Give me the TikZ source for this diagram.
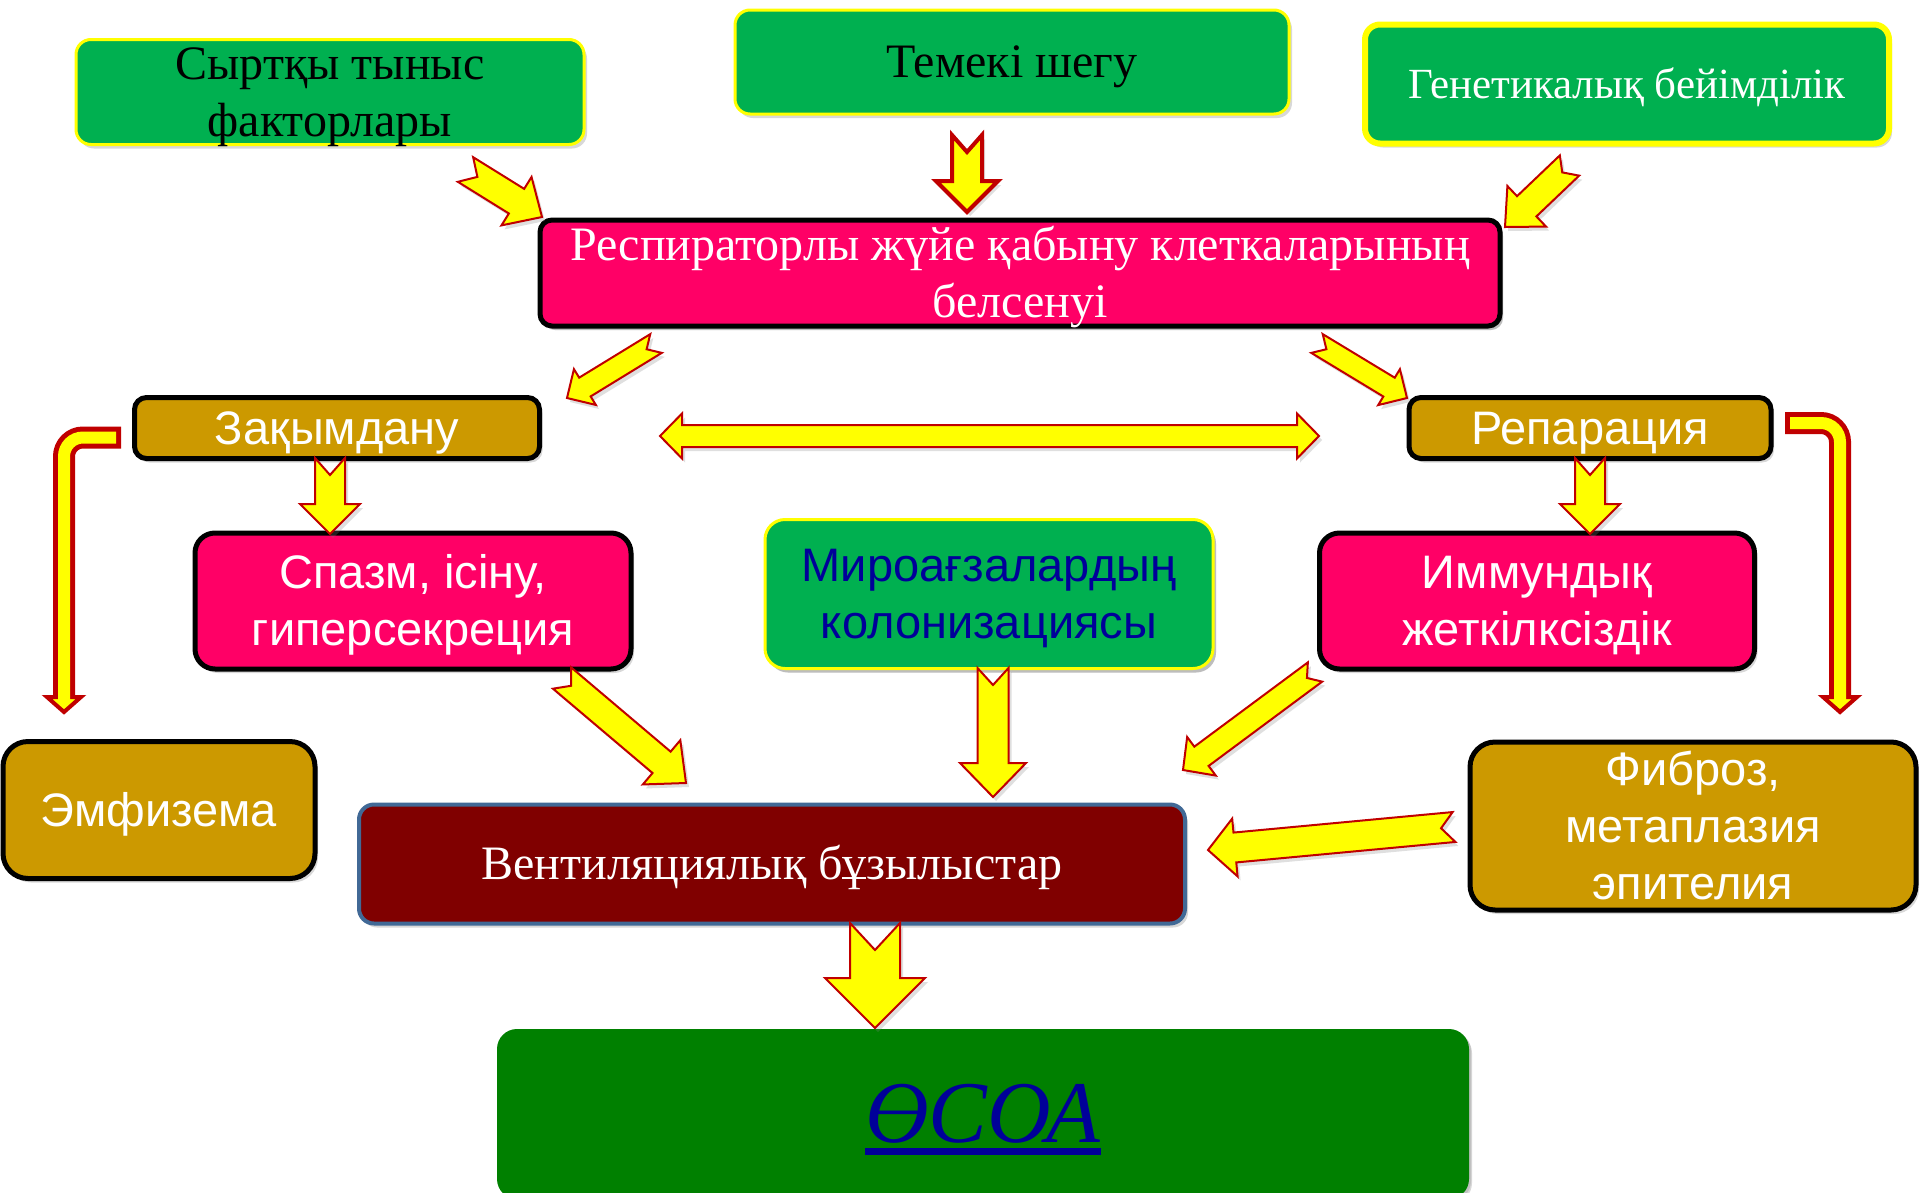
\documentclass[tikz,border=0pt]{standalone}
\usepackage{fontspec}
\setmainfont{Liberation Serif}
\setsansfont{Liberation Sans}
\usetikzlibrary{calc,shadows}

\definecolor{kgreen}{RGB}{0,176,80}
\definecolor{dgreen}{RGB}{0,128,0}
\definecolor{kpink}{RGB}{255,0,102}
\definecolor{kgold}{RGB}{204,153,0}
\definecolor{kmaroon}{RGB}{128,0,0}
\definecolor{kyellow}{RGB}{255,255,0}
\definecolor{kred}{RGB}{192,0,0}
\definecolor{kblue}{RGB}{0,0,153}
\definecolor{kslate}{RGB}{65,105,150}

\tikzset{
	wh/.style 2 args={minimum width=#1pt, minimum height=#2pt},
	lines/.style 2 args={text height=#1pt, text depth=#2pt},
	box/.style={inner sep=0pt, align=flush center, rounded corners=#1,
		drop shadow={opacity=0.3, shadow xshift=3pt, shadow yshift=-4pt}},
	box/.default=15pt,
	greenbox/.style={box, fill=kgreen, draw=kyellow, line width=3pt},
	pinkbox/.style={box=20pt, fill=kpink, draw=black, line width=5pt, text=white},
	goldbox/.style={box=#1, fill=kgold, draw=black, line width=5pt, text=white},
	goldbox/.default=12pt,
	arrowbox/.style={fill=kyellow, draw=kred, line width=2pt, line join=miter,
		drop shadow={opacity=0.25, shadow xshift=3pt, shadow yshift=-4pt}},
	seriftext/.style={font=\fontsize{#1}{57}\selectfont},
	sanstext/.style={font=\fontsize{#1}{57}\sffamily\selectfont},
}

% #2 tail, #3 tip, #4 half shaft, #5 half head, #6 head length, #7 notch
\newcommand{\blockarrow}[7][]{%
	\coordinate (ba-c) at ($(#3)!#6!(#2)$);
	\draw[arrowbox,#1] ($(#2)!#7!(#3)$) -- ($(#2)!#4!90:(#3)$)
		-- ($(ba-c)!#4!-90:(#2)$) -- ($(ba-c)!#5!-90:(#2)$) -- (#3)
		-- ($(ba-c)!#5!90:(#2)$) -- ($(ba-c)!#4!90:(#2)$)
		-- ($(#2)!#4!-90:(#3)$) -- cycle;
}
\newcommand{\thickul}[1]{\setbox0\hbox{#1}\rlap{\rule[-12pt]{\wd0}{7pt}}\box0}

\begin{document}
\begin{tikzpicture}[x=1pt,y=-1pt]
	\useasboundingbox (0,0) rectangle (1920,1192);
	\clip (0,0) rectangle (1920,1192);
	\fill[white] (0,0) rectangle (1920,1192);

	\node[greenbox, wh={508}{105}, text width=480pt, lines={31.4}{57}, seriftext=48] (sirtky) at (330,92) {Сыртқы тыныс\\факторлары};
	\node[greenbox, wh={554}{104}, lines={31.4}{0}, seriftext=48] (temeki) at (1012,62) {Темекі шегу};
	\node[greenbox, line width=6pt, wh={524}{119}, lines={28.2}{0}, seriftext=43, text=white] (genetic) at (1627,84) {Генетикалық бейімділік};
	\node[pinkbox, box=12pt, wh={960}{106}, text width=940pt, lines={31.4}{57}, seriftext=48] (resp) at (1020,273) {Респираторлы жүйе қабыну клеткаларының\\белсенуі};

	\node[goldbox, wh={405}{61}, lines={32.3}{0}, sanstext=47] (zaqym) at (337,428) {Зақымдану};
	\node[goldbox, wh={362}{61}, lines={32.3}{0}, sanstext=47] (repar) at (1590,428) {Репарация};

	\node[pinkbox, wh={436}{136}, text width=420pt, lines={32.3}{57}, sanstext=47] (spazm) at (413,601) {Спазм, ісіну,\\гиперсекреция};
	\node[greenbox, box=20pt, wh={448}{149}, text width=430pt, lines={32.3}{57}, sanstext=47, text=kblue] (micro) at (989,594) {Мироағзалардың\\колонизациясы};
	\node[pinkbox, wh={435}{136}, text width=420pt, lines={32.3}{57}, sanstext=47] (immun) at (1537,601) {Иммундық\\жеткілксіздік};

	\node[goldbox=25pt, wh={312}{137}, lines={32.3}{0}, sanstext=47] (emfiz) at (159,810) {Эмфизема};
	\node[goldbox=25pt, wh={446}{168}, text width=430pt, lines={32.3}{114}, sanstext=47] (fibroz) at (1693,826) {Фиброз,\\метаплазия\\эпителия};
	\node[box, fill=kmaroon, draw=kslate, line width=4pt, wh={826}{119}, lines={31.4}{0}, seriftext=48, text=white] (vent) at (772,864) {Вентиляциялық бұзылыстар};

	\node[box=20pt, fill=dgreen, wh={972}{170}, lines={57.6}{0}, text=kblue, font=\fontsize{88}{90}\itshape\selectfont,
		drop shadow={opacity=0.25, shadow xshift=2pt, shadow yshift=-2pt}] (osoa) at (983,1114) {\thickul{ӨСОА}};

	\coordinate (sirtky-out) at (465.5,169.5);
	\coordinate (resp-in1) at (542,217);
	\coordinate (temeki-out) at (967,135);
	\coordinate (resp-in2) at (967,212);
	\coordinate (genetic-out) at (1569.5,165.5);
	\coordinate (resp-in3) at (1505,227);
	\coordinate (resp-out1) at (656,343.5);
	\coordinate (zaqym-in) at (567,398);
	\coordinate (resp-out2) at (1317,343.5);
	\coordinate (repar-in) at (1407,398);
	\coordinate (zaqym-r) at (660,436);
	\coordinate (repar-l) at (1319,436);
	\coordinate (zaqym-out) at (330,458);
	\coordinate (spazm-in) at (330,534);
	\coordinate (repar-out) at (1590,458);
	\coordinate (immun-in) at (1590,534);
	\coordinate (spazm-out) at (562,678);
	\coordinate (vent-in1) at (686,783);
	\coordinate (micro-out) at (993,668);
	\coordinate (vent-in2) at (993,797);
	\coordinate (immun-out) at (1315,672);
	\coordinate (vent-in3) at (1183,770);
	\coordinate (fibroz-out) at (1454,827);
	\coordinate (vent-in4) at (1208,850);
	\coordinate (vent-out) at (875,923);
	\coordinate (osoa-in) at (875,1028);
	\coordinate (zaqym-w) at (121,437.5);
	\coordinate (emfiz-in) at (64,699);
	\coordinate (repar-e) at (1785,423);
	\coordinate (fibroz-in) at (1840,699);

	\blockarrow{sirtky-out}{resp-in1}{14.5pt}{28.5pt}{30pt}{14pt}
	\blockarrow[line width=4pt]{temeki-out}{resp-in2}{15pt}{31pt}{31pt}{17pt}
	\blockarrow{genetic-out}{resp-in3}{14pt}{28pt}{30pt}{10pt}
	\blockarrow{resp-out1}{zaqym-in}{11pt}{21pt}{21pt}{11pt}
	\blockarrow{resp-out2}{repar-in}{11pt}{21pt}{21pt}{11pt}
	\blockarrow{zaqym-out}{spazm-in}{15pt}{30pt}{30pt}{17pt}
	\blockarrow{repar-out}{immun-in}{15pt}{30pt}{30pt}{17pt}
	\blockarrow{spazm-out}{vent-in1}{14pt}{29pt}{32pt}{12pt}
	\blockarrow{micro-out}{vent-in2}{15.5pt}{33pt}{34pt}{17pt}
	\blockarrow{immun-out}{vent-in3}{12pt}{24pt}{23pt}{10pt}
	\blockarrow{fibroz-out}{vent-in4}{15pt}{29pt}{27pt}{13pt}
	\blockarrow{vent-out}{osoa-in}{25pt}{50pt}{50pt}{27pt}

	\draw[arrowbox] (zaqym-r) -- ++(22,-22.5) -- ++(0,11.5) -- ($(repar-l)+(-22,-11)$) -- ++(0,-11.5)
		-- (repar-l) -- ++(-22,22.5) -- ++(0,-11.5) -- ($(zaqym-r)+(22,11)$) -- ++(0,11.5) -- cycle;

	\draw[kred, line width=22pt, rounded corners=19pt] (zaqym-w) -| (emfiz-in);
	\draw[fill=kyellow, draw=kred, line width=4pt, line join=miter] ($(emfiz-in)+(-17,-2)$) -- ($(emfiz-in)+(17,-2)$) -- ($(emfiz-in)+(0,13)$) -- cycle;
	\draw[kyellow, line width=12pt, rounded corners=19pt, shorten <=5pt] (zaqym-w) -| ($(emfiz-in)+(0,2)$);

	\draw[kred, line width=22pt, rounded corners=19pt] (repar-e) -| (fibroz-in);
	\draw[fill=kyellow, draw=kred, line width=4pt, line join=miter] ($(fibroz-in)+(-17,-2)$) -- ($(fibroz-in)+(17,-2)$) -- ($(fibroz-in)+(0,13)$) -- cycle;
	\draw[kyellow, line width=12pt, rounded corners=19pt, shorten <=5pt] (repar-e) -| ($(fibroz-in)+(0,2)$);
\end{tikzpicture}
\end{document}
